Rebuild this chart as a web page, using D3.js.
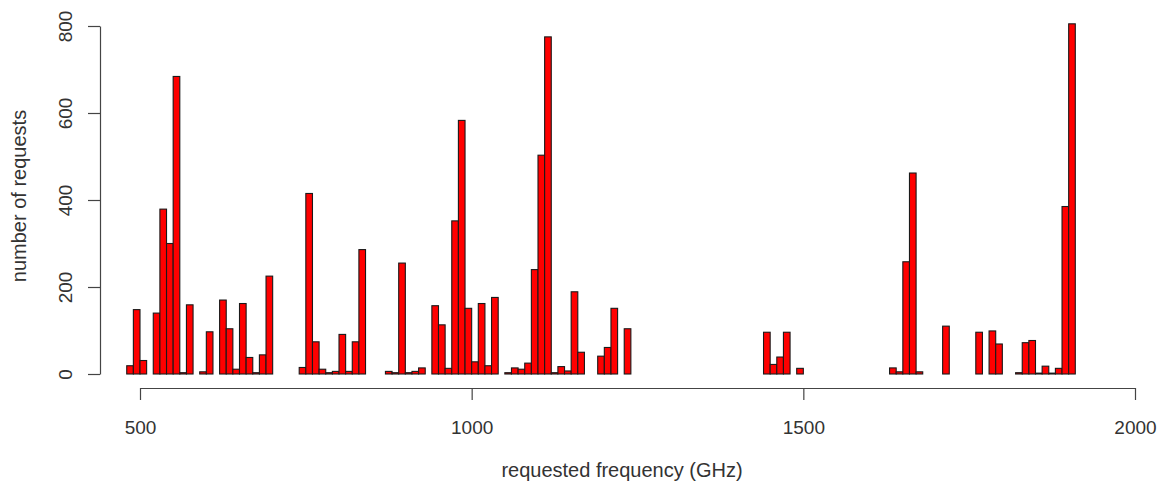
<!DOCTYPE html>
<html>
<head>
<meta charset="utf-8">
<script src="https://cdn.jsdelivr.net/npm/d3@7"></script>
<style>
  html, body { margin: 0; padding: 0; background: #fff; }
  svg { display: block; }
</style>
</head>
<body>
<div id="chart"></div>
<script>
// histogram bins: 10 GHz wide, first bin starts at 480 GHz
const binStart = 480;
const binWidth = 10;
const counts = [
  19, 148, 31, 0, 140, 379, 300, 684, 3, 159,      // 480-570
  0, 5, 97, 0, 170, 104, 11, 162, 38, 3,           // 580-670
  44, 225, 0, 0, 0, 0, 15, 415, 74, 11,            // 680-770
  3, 6, 91, 6, 74, 286, 0, 0, 0, 6,                // 780-870
  3, 255, 3, 6, 14, 0, 157, 113, 13, 352,          // 880-970
  583, 151, 28, 162, 19, 176, 0, 3, 14, 11,        // 980-1070
  25, 240, 503, 775, 3, 17, 7, 189, 50, 0,         // 1080-1170
  0, 41, 61, 151, 0, 104, 0, 0, 0, 0,              // 1180-1270
  0, 0, 0, 0, 0, 0, 0, 0, 0, 0,                    // 1280-1370
  0, 0, 0, 0, 0, 0, 96, 22, 39, 96,                // 1380-1470
  0, 13, 0, 0, 0, 0, 0, 0, 0, 0,                   // 1480-1570
  0, 0, 0, 0, 0, 14, 5, 258, 462, 5,               // 1580-1670
  0, 0, 0, 110, 0, 0, 0, 0, 96, 0,                 // 1680-1770
  99, 69, 0, 0, 3, 72, 77, 2, 18, 2,               // 1780-1870
  13, 385, 805                                     // 1880-1900
];
const xTicks = [500, 1000, 1500, 2000];
const yTicks = [0, 200, 400, 600, 800];
const xTitle = 'requested frequency (GHz)';
const yTitle = 'number of requests';

class HistogramChart {
  constructor(selector) {
    this.element = d3.select(selector);
    this.width = 1158;
    this.height = 484;
    this.font = '"Liberation Sans", Arial, Helvetica, sans-serif';
    this.fontSize = 19;
    this.titleSize = 20;
    this.textColor = '#333';
    this.lineColor = '#444';
    this.bins = counts.map((count, i) => ({
      x0: binStart + i * binWidth,
      x1: binStart + (i + 1) * binWidth,
      count: count
    }));
  }

  draw() {
    this.createSVG();
    this.createScales();
    this.renderBars();
    this.renderAxis();
    this.renderTitles();
  }

  createSVG() {
    this.element.selectAll('svg').remove();
    this.svg = this.element
      .append('svg')
      .attr('width', this.width)
      .attr('height', this.height);
  }

  createScales() {
    this.x = d3.scaleLinear().domain([500, 2000]).range([140, 1135]);
    this.y = d3.scaleLinear().domain([0, 800]).range([374, 26]);
  }

  renderBars() {
    this.svg.append('g')
      .selectAll('rect')
      .data(this.bins)
      .enter()
      .append('rect')
      .attr('x', d => this.x(d.x0))
      .attr('y', d => this.y(d.count))
      .attr('width', d => this.x(d.x1) - this.x(d.x0))
      .attr('height', d => this.y(0) - this.y(d.count))
      .attr('fill', '#ff0000')
      .attr('stroke', '#1a1a1a')
      .attr('stroke-width', 1.1);
  }

  styleAxis(g) {
    g.attr('font-family', this.font).attr('font-size', this.fontSize);
    g.selectAll('path, line').attr('stroke', this.lineColor).attr('stroke-width', 1.2);
    g.selectAll('text').attr('fill', this.textColor);
  }

  renderAxis() {
    let xAxis = this.svg.append('g')
      .attr('transform', 'translate(0,388)')
      .call(d3.axisBottom(this.x).tickValues(xTicks).tickSize(12).tickSizeOuter(0).tickFormat(d3.format('d')));
    xAxis.selectAll('text').attr('y', 46).attr('dy', 0);
    this.styleAxis(xAxis);

    let yAxis = this.svg.append('g')
      .attr('transform', 'translate(100,0)')
      .call(d3.axisLeft(this.y).tickValues(yTicks).tickSize(12).tickSizeOuter(0));
    yAxis.selectAll('text')
      .attr('transform', 'rotate(-90)')
      .attr('x', 0)
      .attr('y', -28)
      .attr('dy', 0)
      .attr('text-anchor', 'middle');
    this.styleAxis(yAxis);
  }

  renderTitles() {
    this.svg.append('text')
      .attr('x', 622)
      .attr('y', 477)
      .attr('text-anchor', 'middle')
      .attr('font-family', this.font)
      .attr('font-size', this.titleSize)
      .attr('fill', this.textColor)
      .text(xTitle);

    this.svg.append('text')
      .attr('transform', 'translate(26,196) rotate(-90)')
      .attr('text-anchor', 'middle')
      .attr('font-family', this.font)
      .attr('font-size', this.titleSize)
      .attr('fill', this.textColor)
      .text(yTitle);
  }
}

new HistogramChart('#chart').draw();
</script>
</body>
</html>
